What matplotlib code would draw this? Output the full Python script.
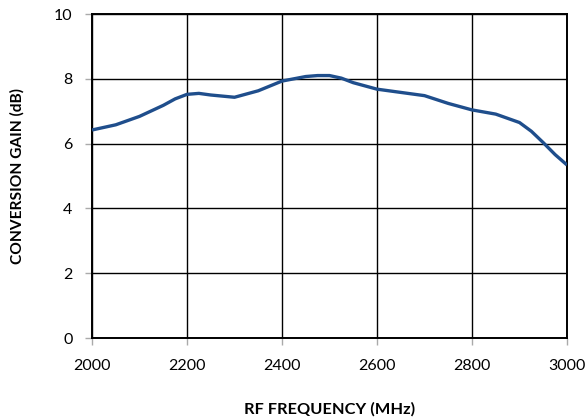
import matplotlib
matplotlib.use("Agg")
import matplotlib.pyplot as plt

freq_mhz = [2000, 2050, 2100, 2150, 2175, 2200, 2225, 2250, 2300, 2350, 2400, 2450,
            2475, 2500, 2525, 2550, 2600, 2650, 2700, 2750, 2800, 2850, 2900, 2925,
            2950, 2975, 3000]
gain_db = [6.42, 6.58, 6.84, 7.18, 7.38, 7.52, 7.55, 7.50, 7.43, 7.63, 7.93, 8.07,
           8.10, 8.10, 8.02, 7.88, 7.68, 7.58, 7.48, 7.24, 7.04, 6.91, 6.65, 6.38,
           6.03, 5.66, 5.34]
x_ticks = [2000, 2200, 2400, 2600, 2800, 3000]
y_ticks = [0, 2, 4, 6, 8, 10]

plt.rcParams['font.family'] = ['Lato', 'DejaVu Sans']

fig = plt.figure(figsize=(5.87, 4.18), dpi=100)
ax = fig.add_axes([92/587, 80/418, 475/587, 324/418])
ax.plot(freq_mhz, gain_db, color='#1F4E8C', lw=2.4, solid_capstyle='butt',
        solid_joinstyle='round', zorder=3)
ax.set_xlim(2000, 3000)
ax.set_ylim(0, 10)
ax.set_xticks(x_ticks)
ax.set_yticks(y_ticks)
ax.grid(True, color='black', lw=1.0)
for s in ax.spines.values():
    s.set_color('black')
    s.set_linewidth(1.4)
ax.tick_params(axis='both', direction='out', length=5, color='#AAAAAA', width=1,
               labelsize=11.5)
ax.tick_params(axis='x', pad=10)
ax.tick_params(axis='y', pad=9)
ax.set_xlabel('RF FREQUENCY (MHz)', fontsize=11.8, fontweight='bold', labelpad=21)
ax.set_ylabel('CONVERSION GAIN (dB)', fontsize=11.2, fontweight='bold', labelpad=21)
fig.savefig('out.png', dpi=100)
